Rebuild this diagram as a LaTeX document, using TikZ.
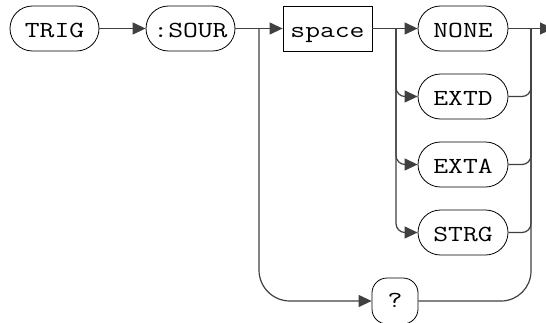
\documentclass[tikz,border=0pt]{standalone}
\usetikzlibrary{arrows.meta}
\newcommand\kwt[1]{\scalebox{1.25}[1]{#1}}
\begin{document}
\begin{tikzpicture}[x=1pt,y=-1pt,
  txt/.style={inner sep=0pt,text height=17.6pt,text depth=0pt,font=\ttfamily\fontsize{23}{23}\selectfont},
  kw/.style={txt,draw=black,line width=0.8pt,rounded corners=22.5pt,minimum width=90pt,minimum height=45pt},
  boxn/.style={txt,draw=black,line width=0.8pt,minimum width=89pt,minimum height=45pt},
  qn/.style={txt,draw=black,line width=0.8pt,rounded corners=15pt,minimum width=46pt,minimum height=46pt,text height=12pt},
  conn/.style={draw=black!75,line width=1.2pt},
  arr/.style={conn,-{Triangle[length=13pt,width=12pt]}}]
\useasboundingbox (0,0) rectangle (546,322);
\clip (0,0) rectangle (546,322);
\node[kw,minimum width=89pt] (trig) at (54.5,28.5) {\kwt{TRIG}};
\node[kw,minimum width=89pt] (sour) at (190.5,28.5) {\kwt{:SOUR}};
\node[boxn] (space) at (327.5,28.5) {\kwt{space}};
\node[kw] (none) at (463,28.5) {\kwt{NONE}};
\node[kw] (extd) at (463,96.5) {\kwt{EXTD}};
\node[kw] (exta) at (463,164.5) {\kwt{EXTA}};
\node[kw] (strg) at (463,232.5) {\kwt{STRG}};
\node[qn] (q) at (395,301) {\kwt{?}};
\coordinate (b1) at (259,28.5);
\coordinate (b2) at (396,28.5);
\coordinate (b3) at (531,28.5);
\coordinate (fin) at (553,28.5);
\draw[arr] (trig.east) -- (sour.west);
\draw[arr] (sour.east) -- (space.west);
\draw[arr,rounded corners=31pt] (b1) |- (q.west);
\draw[arr] (space.east) -- (none.west);
\draw[arr,rounded corners=9pt] (b2) |- (extd.west);
\draw[arr,rounded corners=9pt] (b2) |- (exta.west);
\draw[arr,rounded corners=9pt] (b2) |- (strg.west);
\draw[arr] (none.east) -- (fin);
\draw[conn,rounded corners=9pt] (extd.east) -| (b3);
\draw[conn,rounded corners=9pt] (exta.east) -| (b3);
\draw[conn,rounded corners=9pt] (strg.east) -| (b3);
\draw[conn,rounded corners=30pt] (q.east) -| (b3);
\end{tikzpicture}
\end{document}
